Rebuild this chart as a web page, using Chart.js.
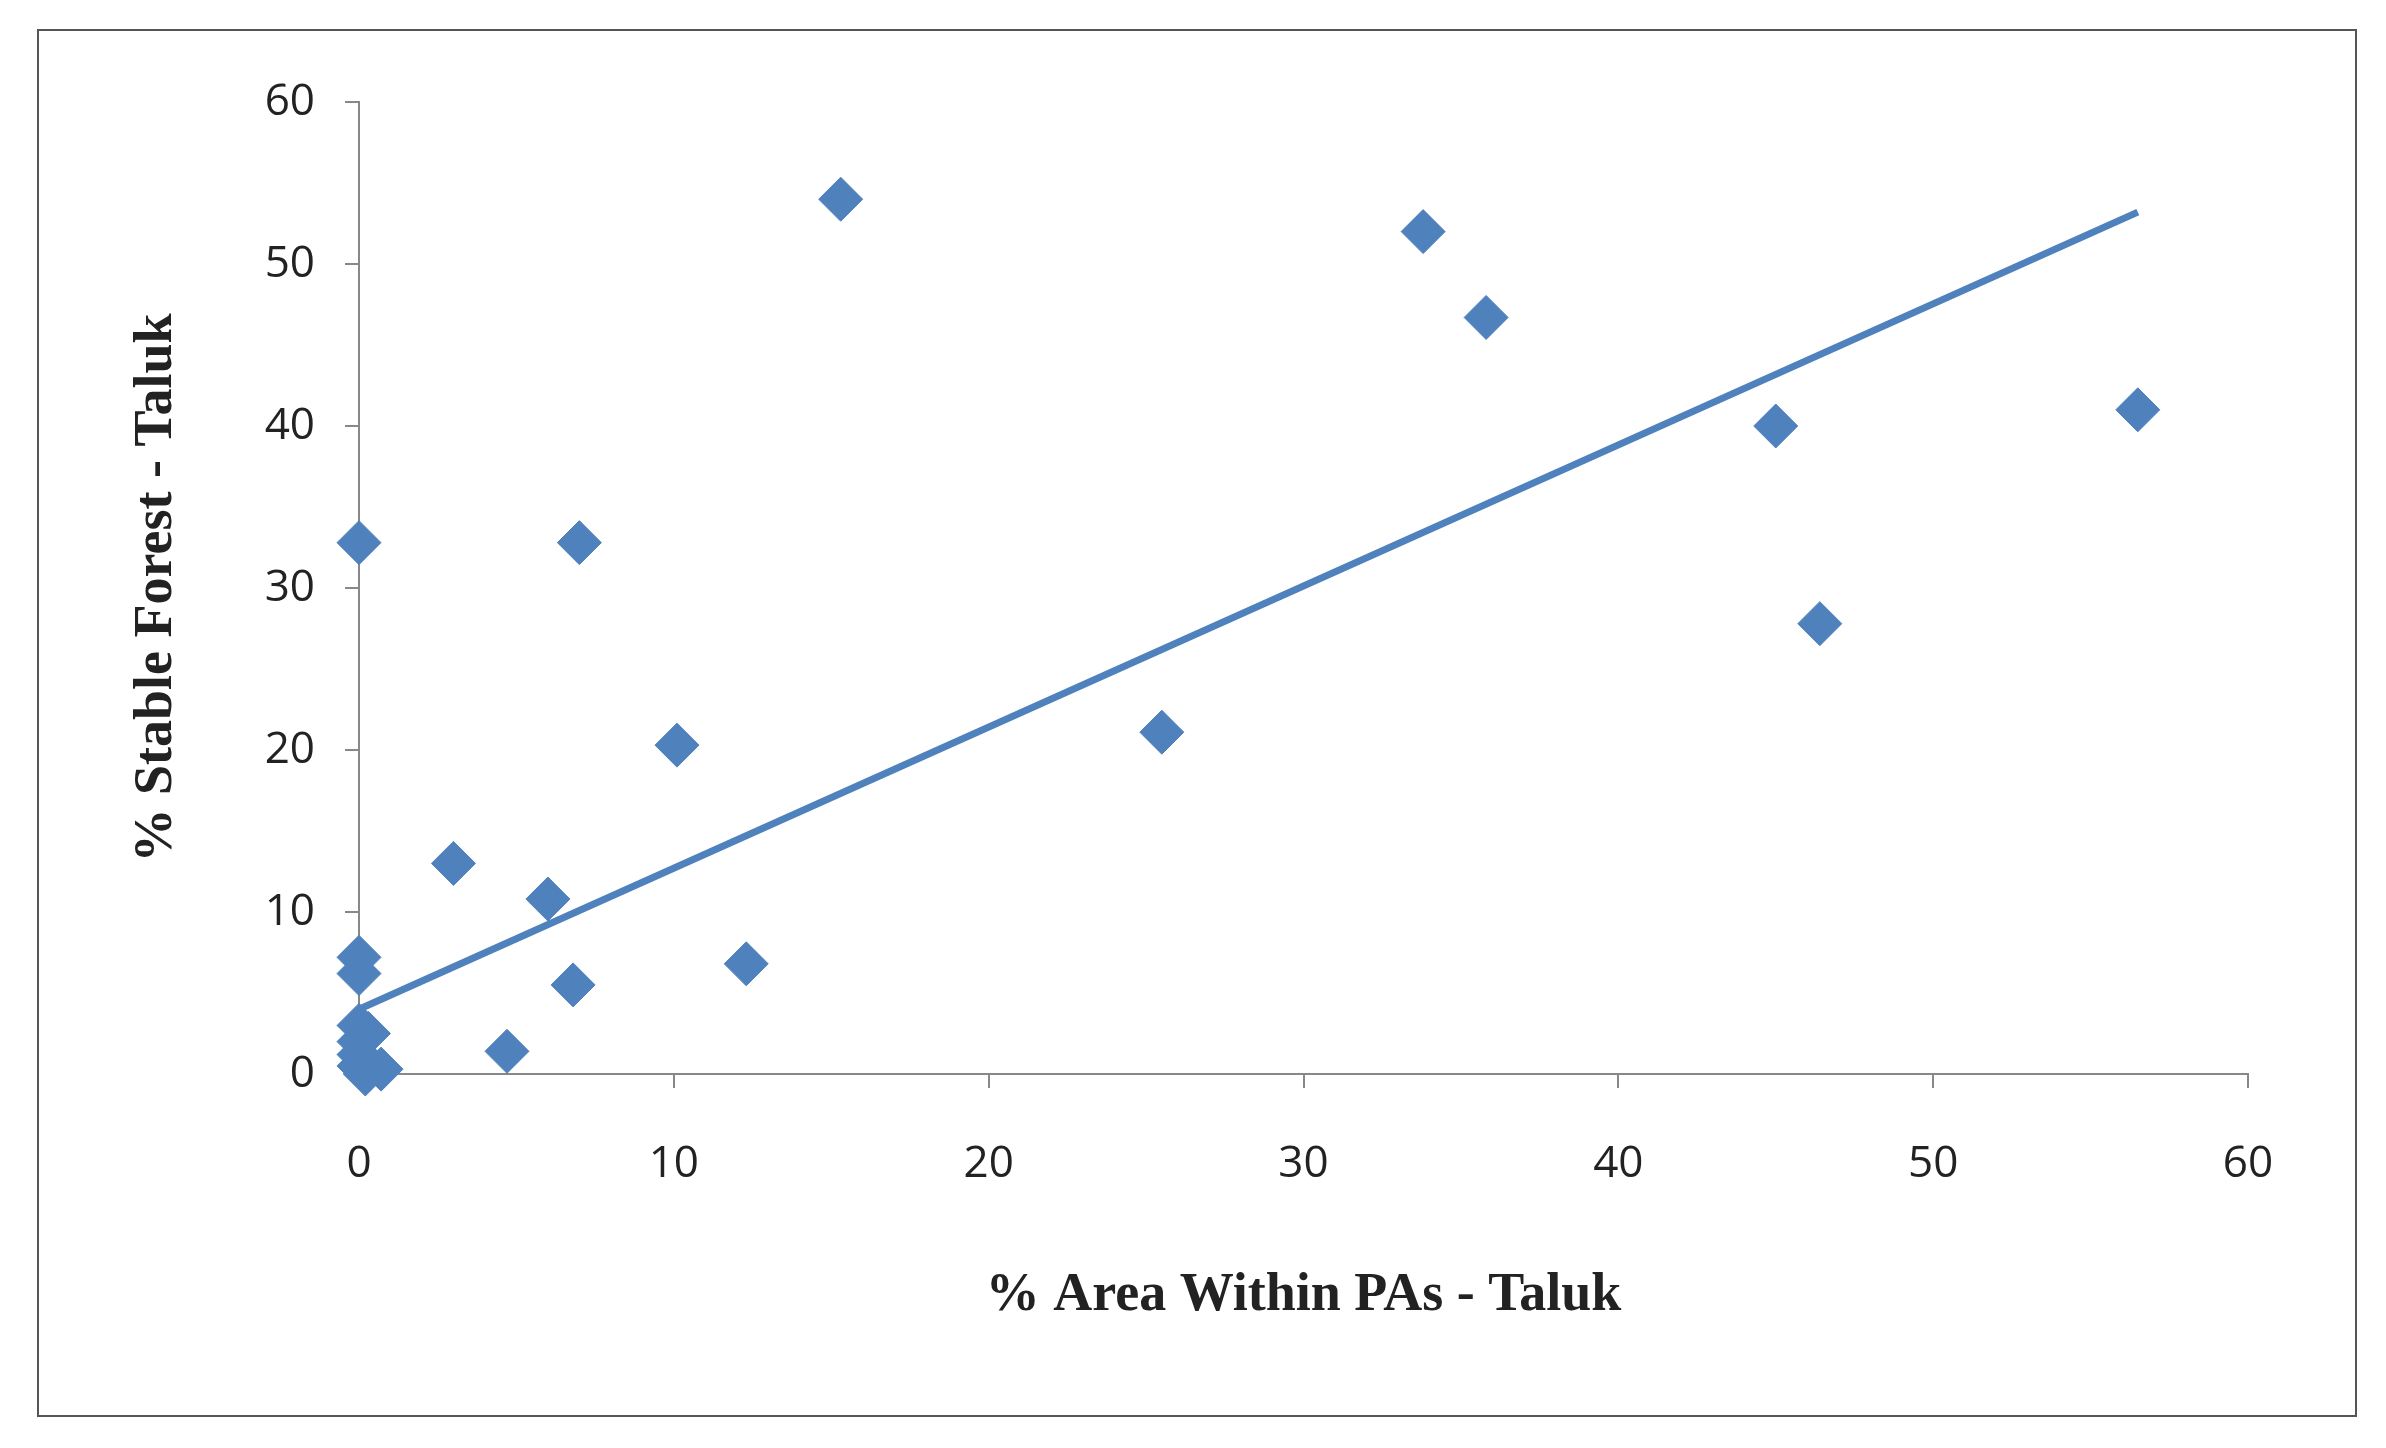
<!DOCTYPE html>
<html><head><meta charset="utf-8">
<script src="https://cdn.jsdelivr.net/npm/chart.js@4"></script>
<style>html,body{margin:0;padding:0;background:#fff}#w{width:2386px;height:1448px}</style>
</head><body><div id="w"><canvas id="c"></canvas></div>
<script>
const xValues = [0,0,0,0,0.3,0,0,0,0.2,0.7,3,4.7,6,6.8,7,10.1,12.3,15.3,25.5,33.8,35.8,45,46.4,56.5];
const yValues = [32.8,7.2,6.2,3,2.5,2,1.2,0.5,0,0.3,13,1.4,10.8,5.5,32.8,20.3,6.8,54,21.1,52,46.7,40,27.8,41];
const trendX = [0,56.5];
const trendY = [4,53.2];
const tickValues = [0,10,20,30,40,50,60];
const xTitle = '% Area Within PAs - Taluk';
const yTitle = '% Stable Forest - Taluk';
const blue = '#4F81BD';
const border = {id:'border',afterDraw(c){const x=c.ctx;x.save();x.strokeStyle='#555';x.lineWidth=2;x.strokeRect(38,30,2318,1386);x.restore();}};
new Chart(document.getElementById('c'),{
 type:'scatter',
 data:{datasets:[
  {data:xValues.map((v,i)=>({x:v,y:yValues[i]})),pointStyle:'rectRot',pointRadius:22,backgroundColor:blue,borderColor:blue,clip:false},
  {type:'line',data:trendX.map((v,i)=>({x:v,y:trendY[i]})),borderColor:blue,borderWidth:7,pointRadius:0,fill:false,clip:false}
 ]},
 options:{responsive:true,maintainAspectRatio:false,animation:false,
  layout:{padding:{top:102,right:138,left:0,bottom:0}},
  plugins:{legend:{display:false},tooltip:{enabled:false}},
  scales:{
   x:{type:'linear',min:0,max:60,afterBuildTicks(a){a.ticks=tickValues.map(v=>({value:v}));},
    afterFit(a){a.height=374;},
    grid:{drawOnChartArea:false,tickLength:14,color:'#888',lineWidth:2},border:{color:'#888',width:2},
    ticks:{padding:50,color:'#222',font:{family:'Open Sans',size:44}},
    title:{display:true,text:xTitle,color:'#222',padding:{top:0,bottom:120},font:{family:'Liberation Serif',size:54,weight:'bold'}}},
   y:{type:'linear',min:0,max:60,afterBuildTicks(a){a.ticks=tickValues.map(v=>({value:v}));},
    afterFit(a){a.width=359;},
    grid:{drawOnChartArea:false,tickLength:14,color:'#888',lineWidth:2},border:{color:'#888',width:2},
    ticks:{padding:30,color:'#222',font:{family:'Open Sans',size:44}},
    title:{display:true,text:yTitle,color:'#222',padding:{top:125,bottom:0},font:{family:'Liberation Serif',size:54,weight:'bold'}}}
  }},
 plugins:[border]
});
</script></body></html>
